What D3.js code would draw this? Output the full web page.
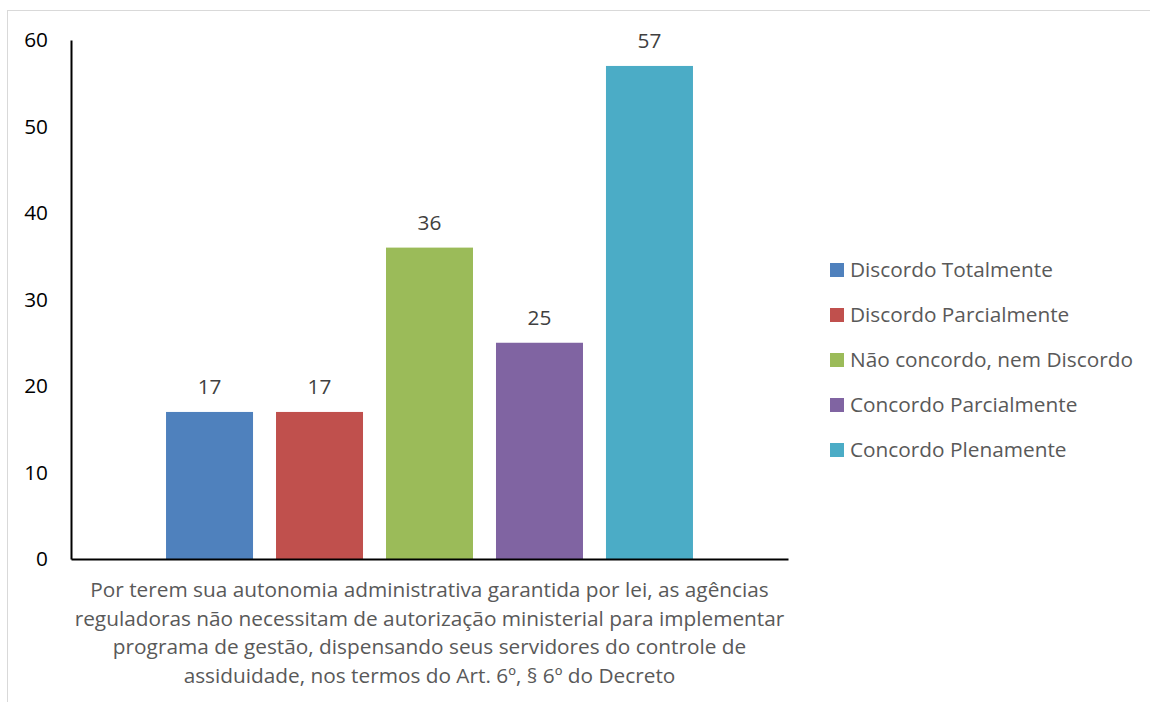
<!DOCTYPE html>
<html><head><meta charset="utf-8">
<script src="https://cdn.jsdelivr.net/npm/d3@7"></script>
<style>body{margin:0;background:#fff;} svg{display:block;font-family:"Open Sans",sans-serif;}</style>
</head><body><svg id="c" width="1150" height="702"></svg>
<script>
const categories = ["Discordo Totalmente","Discordo Parcialmente","Não concordo, nem Discordo","Concordo Parcialmente","Concordo Plenamente"];
const values = [17,17,36,25,57];
const colors = ["#4f81bd","#c0504d","#9bbb59","#8064a2","#4bacc6"];
const yTicks = [0,10,20,30,40,50,60];
const xLabelLines = ["Por terem sua autonomia administrativa garantida por lei, as agências","reguladoras não necessitam de autorização ministerial para implementar","programa de gestão, dispensando seus servidores do controle de","assiduidade, nos termos do Art. 6º, § 6º do Decreto"];

const FS = 20.8;
const svg = d3.select("#c");
svg.append("rect").attr("x",7.5).attr("y",10.5).attr("width",1160).attr("height",720).attr("fill","#fff").attr("stroke","#d9d9d9").attr("stroke-width",1);

const x0=71, x1=788, yTop=40, yBot=559;
const y = d3.scaleLinear().domain([0,60]).range([yBot,yTop]);
const x = d3.scaleBand().domain(categories).range([x0,x1]).paddingInner(0.209).paddingOuter(0.864);

const yAxis = svg.append("g").attr("transform",`translate(${x0},0)`)
  .call(d3.axisLeft(y).tickValues(yTicks).tickSize(0).tickPadding(23));
yAxis.select(".domain").attr("stroke","#000").attr("stroke-width",2);
yAxis.selectAll("text").attr("font-family","Open Sans, sans-serif").attr("font-size",FS).attr("fill","#000");

svg.selectAll("rect.bar").data(values).join("rect").attr("class","bar")
  .attr("x",(d,i)=>x(categories[i])).attr("width",x.bandwidth())
  .attr("y",d=>y(d)).attr("height",d=>yBot-y(d)).attr("fill",(d,i)=>colors[i]);

svg.selectAll("text.lbl").data(values).join("text").attr("class","lbl")
  .attr("x",(d,i)=>x(categories[i])+x.bandwidth()/2).attr("y",d=>y(d)-18)
  .attr("text-anchor","middle").attr("font-size",FS).attr("fill","#404040").text(d=>d);

const xAxis = svg.append("g").attr("transform",`translate(0,${yBot})`)
  .call(d3.axisBottom(d3.scaleLinear().range([x0,x1])).tickValues([]).tickSize(0));
xAxis.select(".domain").attr("stroke","#000").attr("stroke-width",2);

svg.append("g").selectAll("text").data(xLabelLines).join("text")
  .attr("x",(x0+x1)/2).attr("y",(d,i)=>597+i*28.5).attr("text-anchor","middle")
  .attr("font-size",FS).attr("fill","#595959").text(d=>d);

const leg = svg.append("g").selectAll("g").data(categories).join("g")
  .attr("transform",(d,i)=>`translate(830,${277+i*45})`);
leg.append("rect").attr("x",0).attr("y",-14).attr("width",14).attr("height",14).attr("fill",(d,i)=>colors[i]);
leg.append("text").attr("x",20).attr("y",0).attr("font-size",FS).attr("fill","#595959").text(d=>d);
</script></body></html>
